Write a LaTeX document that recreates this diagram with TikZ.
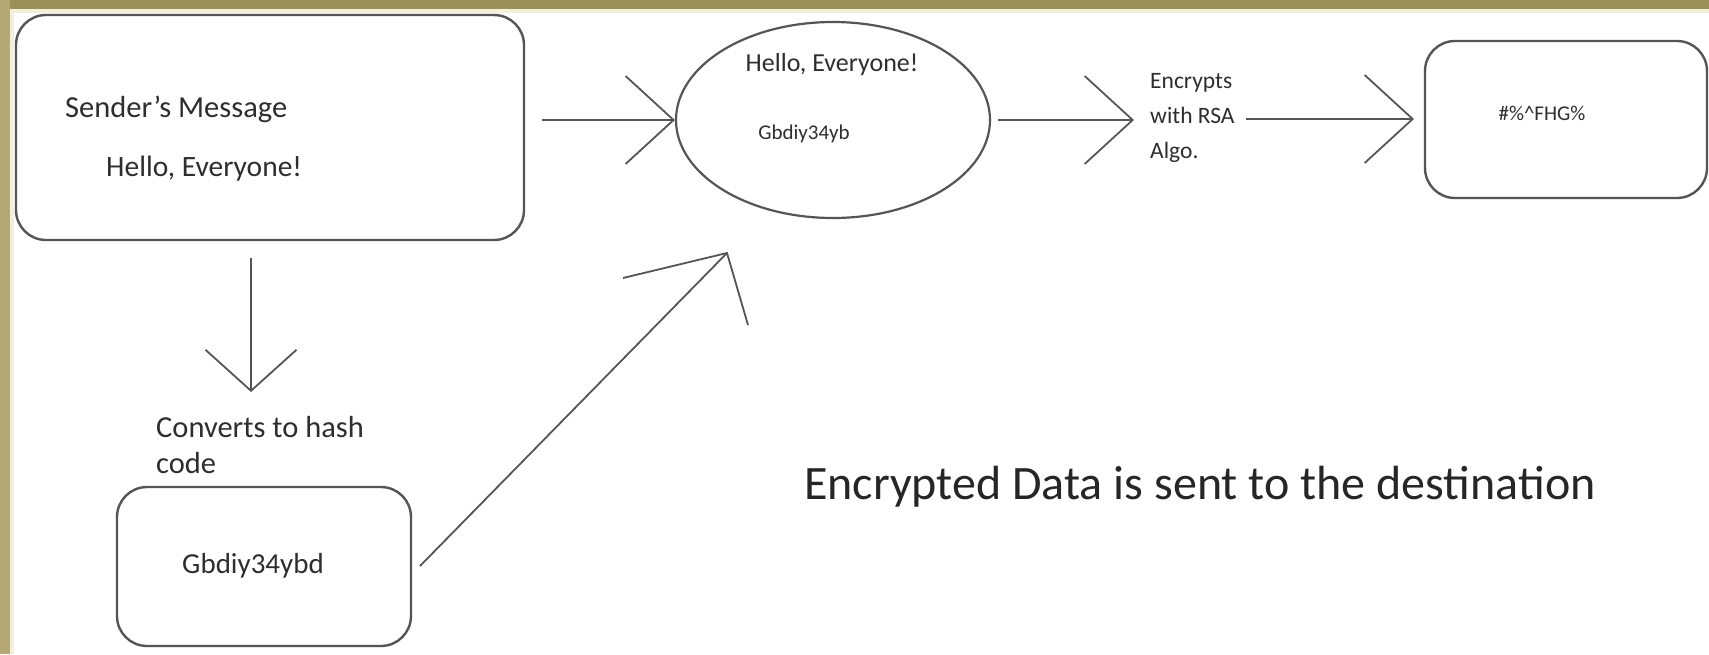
\documentclass[tikz,border=0pt]{standalone}
\usepackage{fontspec}
\setmainfont{Carlito}
\usetikzlibrary{arrows.meta,shapes.geometric,calc}
\definecolor{ln}{HTML}{555555}
\definecolor{tx}{HTML}{2E2E2E}
\definecolor{bandtop}{HTML}{9A9156}
\definecolor{bandleft}{HTML}{B4A874}
\definecolor{cream}{HTML}{F3EFD8}
\begin{document}
\begin{tikzpicture}[x=1pt,y=-1pt,
  box/.style={draw=ln,line width=2.4pt,rounded corners=30pt,inner sep=0pt},
  conn/.style={draw=ln,line width=1.8pt},
  arr/.style={conn,-{Straight Barb[length=48pt,width=88pt]}},
  lbl/.style={text=tx,inner sep=0pt,anchor=west},
  txt/.style={text=tx,inner sep=0pt}]
\useasboundingbox (0,0) rectangle (1709,654);
\fill[white] (0,0) rectangle (1709,654);
\fill[bandtop] (0,0) rectangle (1709,9);
\fill[bandleft] (0,0) rectangle (10,654);
\fill[cream] (10,9) rectangle (1709,13);
\fill[cream] (10,9) rectangle (14,654);

% boxes
\node[box,minimum width=508pt,minimum height=225pt] (b1) at (270,127.5) {};
\node[lbl,font=\fontsize{30.5}{36}\selectfont] (t1) at (65,109) {Sender's Message};
\node[lbl,font=\fontsize{29.5}{36}\selectfont] (t2) at (106,169) {Hello, Everyone!};

\node[draw=ln,line width=2.2pt,ellipse,minimum width=314pt,minimum height=196pt,inner sep=0pt] (ell) at (833,120) {};
\node[txt,font=\fontsize{26}{30}\selectfont] (e1) at (832,65) {Hello, Everyone!};
\node[txt,font=\fontsize{21}{26}\selectfont] (e2) at (804,134) {Gbdiy34yb};

\node[lbl,align=left,font=\fontsize{23.5}{35}\selectfont] (enc) at (1150,118) {Encrypts\\with RSA\\Algo.};

\node[box,minimum width=282pt,minimum height=157pt] (b4) at (1566,119.5) {};
\node[txt,font=\fontsize{21}{26}\selectfont] (hash) at (1542,113) {\#\%\textasciicircum FHG\%};

\node[lbl,align=left,font=\fontsize{30.5}{36}\selectfont] (conv) at (156,445) {Converts to hash\\code};

\node[box,minimum width=294pt,minimum height=159pt] (b5) at (264,566.5) {};
\node[txt,font=\fontsize{29}{34}\selectfont] (g5) at (253,566) {Gbdiy34ybd};

\node[lbl,font=\fontsize{48}{56}\selectfont,text=black!85] (big) at (804,487) {Encrypted Data is sent to the destination};

% connectors
\coordinate (a1s) at (542,120);
\draw[arr] (a1s) -- (ell.west);
\coordinate (a2s) at (998,120);
\coordinate (a2e) at (1134,120);
\draw[arr] (a2s) -- (a2e);
\coordinate (a3s) at (1246,119);
\coordinate (a3e) at (1414,119);
\draw[arr] (a3s) -- (a3e);
\coordinate (dns) at (251,258);
\coordinate (dne) at (251,392);
\draw[conn,-{Straight Barb[length=41pt,width=91pt]}] (dns) -- (dne);
\coordinate (ds) at (420,566);
\coordinate (dt) at (727,253);
\draw[conn] (ds) -- (dt);
\draw[conn] ($(dt)+(-104,25)$) -- (dt) -- ($(dt)+(21,72)$);
\end{tikzpicture}
\end{document}
